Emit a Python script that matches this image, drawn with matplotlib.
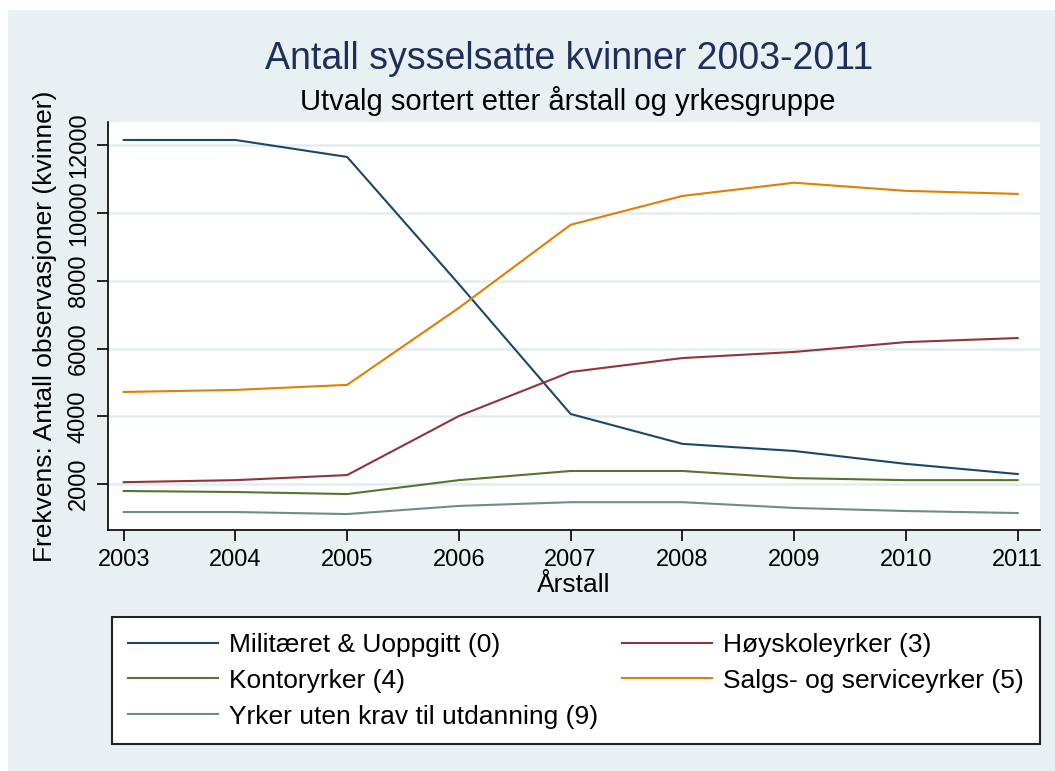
import matplotlib
import matplotlib.pyplot as plt
import numpy as np

matplotlib.rcParams['font.family'] = ['Liberation Sans', 'DejaVu Sans']

years = [2003, 2004, 2005, 2006, 2007, 2008, 2009, 2010, 2011]

militaeret = [12150, 12150, 11650, 7900, 4070, 3190, 2980, 2600, 2300]
hoyskole = [2060, 2120, 2270, 4010, 5310, 5720, 5900, 6190, 6310]
kontor = [1800, 1770, 1710, 2120, 2390, 2390, 2180, 2120, 2120]
salg = [4720, 4780, 4930, 7200, 9650, 10500, 10890, 10650, 10560]
uten_krav = [1180, 1180, 1120, 1360, 1470, 1470, 1300, 1210, 1150]

series = [
    ("Militæret & Uoppgitt (0)", militaeret, "#1a476f"),
    ("Høyskoleyrker (3)", hoyskole, "#90353b"),
    ("Kontoryrker (4)", kontor, "#55752f"),
    ("Salgs- og serviceyrker (5)", salg, "#e37e00"),
    ("Yrker uten krav til utdanning (9)", uten_krav, "#6e8e84"),
]

yticks = [2000, 4000, 6000, 8000, 10000, 12000]

W, H = 1055, 771
bg = "#e8f0f2"
fig = plt.figure(figsize=(W / 100, H / 100), dpi=100)
fig.patch.set_facecolor("white")
# light background panel behind everything
fig.patches.append(plt.Rectangle((8 / W, 0), 1 - 8 / W, 1 - 10 / H,
                                 transform=fig.transFigure, facecolor=bg,
                                 edgecolor="none", zorder=-10))

ax = fig.add_axes([108 / W, (H - 530) / H, (1040 - 108) / W, (530 - 122) / H])
ax.set_facecolor("white")

for label, vals, col in series:
    ax.plot(years, vals, color=col, lw=1.5, label=label)

ax.set_xlim(2002.86, 2011.2)
ax.set_ylim(650, 12680)
ax.set_xticks(years)
ax.set_yticks(yticks)
ax.set_yticklabels([str(v) for v in yticks], rotation=90, va="center")
ax.tick_params(axis="both", labelsize=17, length=8, width=1.2, direction="out")
ax.tick_params(axis="y", pad=5)
ax.tick_params(axis="x", pad=6)
ax.grid(axis="y", color="#e3edf0", lw=1.8)
ax.set_axisbelow(True)
for s in ["top", "right"]:
    ax.spines[s].set_visible(False)
ax.spines["left"].set_linewidth(1.2)
ax.spines["bottom"].set_linewidth(1.2)

ax.set_xlabel("Årstall", fontsize=19, va="center")
ax.xaxis.set_label_coords(0.5, -55 / 408)
ax.set_ylabel("Frekvens: Antall observasjoner (kvinner)", fontsize=19, va="center")
ax.yaxis.set_label_coords(-63 / 932, 0.5)

fig.text(0.539, 1 - 59 / H, "Antall sysselsatte kvinner 2003-2011",
         ha="center", va="center", fontsize=27, color="#1e2f5c")
fig.text(0.538, 1 - 101 / H, "Utvalg sortert etter årstall og yrkesgruppe",
         ha="center", va="center", fontsize=21, color="black")

# row-wise legend order: matplotlib fills columns first
handles, labels = ax.get_legend_handles_labels()
order = [0, 2, 4, 1, 3]
leg = fig.legend([handles[i] for i in order], [labels[i] for i in order],
                 ncol=2, loc="upper left",
                 bbox_to_anchor=(112 / W, 1 - 740 / H, (1040 - 112) / W, (740 - 617) / H),
                 mode="expand", borderaxespad=0, fontsize=19, frameon=True,
                 fancybox=False, handlelength=3.4, handletextpad=0.45,
                 borderpad=0.6, labelspacing=0.45, columnspacing=0.5)
leg.get_frame().set_edgecolor("#222222")
leg.get_frame().set_linewidth(1.5)
leg.get_frame().set_facecolor("white")
leg.get_frame().set_alpha(1)

fig.savefig("out.png", dpi=100, facecolor=fig.get_facecolor())
